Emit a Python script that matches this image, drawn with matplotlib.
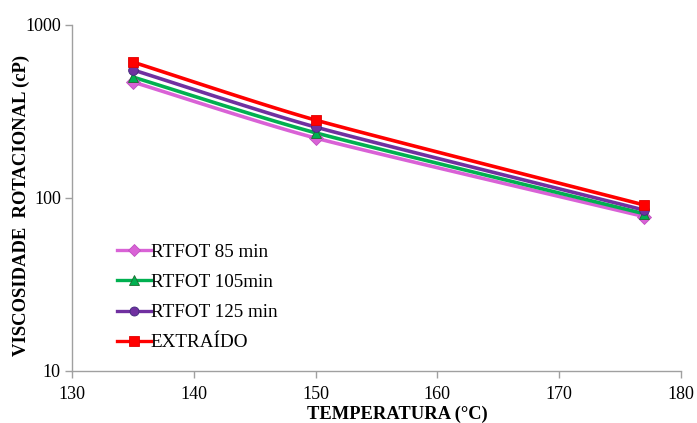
import matplotlib
matplotlib.use("Agg")
import matplotlib.pyplot as plt
import numpy as np

plt.rcParams["font.family"] = ["Liberation Serif", "DejaVu Serif"]

temperature = [135, 150, 177]
rtfot_85 = [468, 222, 78]
rtfot_105 = [500, 238, 81]
rtfot_125 = [550, 257, 85]
extraido = [610, 282, 91]

series = [
    ("RTFOT 85 min", rtfot_85, "#D962D6", "D", "#C050C0"),
    ("RTFOT 105min", rtfot_105, "#00B050", "^", "#1E6B2E"),
    ("RTFOT 125 min", rtfot_125, "#7030A0", "o", "#3F2A7A"),
    ("EXTRAÍDO", extraido, "#FF0000", "s", "#E00000"),
]


def smooth(x, y, n=40):
    # Catmull-Rom style curve through the points (Excel "smoothed line" look)
    x = np.asarray(x, float)
    y = np.log10(np.asarray(y, float))
    px = np.concatenate([[2 * x[0] - x[1]], x, [2 * x[-1] - x[-2]]])
    py = np.concatenate([[2 * y[0] - y[1]], y, [2 * y[-1] - y[-2]]])
    xs, ys = [], []
    for i in range(1, len(px) - 2):
        t = np.linspace(0, 1, n)
        for arr, out in ((px, xs), (py, ys)):
            p0, p1, p2, p3 = arr[i - 1], arr[i], arr[i + 1], arr[i + 2]
            m1 = (p2 - p0) / 2 * 0.6
            m2 = (p3 - p1) / 2 * 0.6
            h00 = 2 * t**3 - 3 * t**2 + 1
            h10 = t**3 - 2 * t**2 + t
            h01 = -2 * t**3 + 3 * t**2
            h11 = t**3 - t**2
            out.extend(h00 * p1 + h10 * m1 + h01 * p2 + h11 * m2)
    return np.array(xs), 10 ** np.array(ys)


fig = plt.figure(figsize=(6.97, 4.23), dpi=100)
ax = fig.add_axes([0.1033, 0.123, 0.8737, 0.818])

handles = []
for label, vals, color, marker, edge in series:
    sx, sy = smooth(temperature, vals)
    ax.plot(sx, sy, color=color, linewidth=2.6, zorder=2)
    ax.plot(temperature, vals, linestyle="none", marker=marker, markersize=7,
            markerfacecolor=color, markeredgecolor=edge, markeredgewidth=0.6, zorder=3)
    h, = ax.plot([], [], color=color, linewidth=2.4, marker=marker, markersize=6.5,
                 markerfacecolor=color, markeredgecolor=edge, markeredgewidth=0.6)
    handles.append((h, label))

ax.set_yscale("log")
ax.set_xlim(130, 180)
ax.set_ylim(10, 1000)
ax.set_xticks([130, 140, 150, 160, 170, 180])
ax.set_yticks([10, 100, 1000])
ax.set_yticklabels(["10", "100", "1000"])
ax.minorticks_off()

for side in ("top", "right"):
    ax.spines[side].set_visible(False)
for side in ("left", "bottom"):
    ax.spines[side].set_color("#A0A0A0")
    ax.spines[side].set_linewidth(1.0)
ax.tick_params(axis="both", colors="#A0A0A0", labelcolor="black", labelsize=13,
               direction="out", length=5, width=1.0)
ax.tick_params(axis="x", pad=6)
ax.tick_params(axis="y", pad=3)

ax.set_xlabel("TEMPERATURA (°C)", fontsize=13.3, fontweight="bold")
ax.set_ylabel("VISCOSIDADE  ROTACIONAL (cP)", fontsize=13.4, fontweight="bold")
ax.xaxis.set_label_coords(0.534, -0.099)
ax.yaxis.set_label_coords(-0.069, 0.477)

ax.legend([h for h, _ in handles], [l for _, l in handles], loc="upper left",
          bbox_to_anchor=(0.062, 0.39), frameon=False, fontsize=13.8,
          handlelength=1.75, handletextpad=0.0, labelspacing=0.66, borderaxespad=0)

fig.savefig("out.png", dpi=100)
